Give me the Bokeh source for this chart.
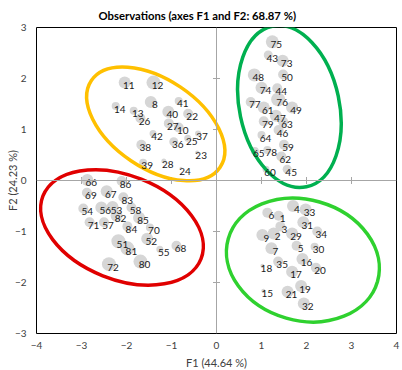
import math
from bokeh.plotting import figure
from bokeh.models import Range1d, FixedTicker, Span, ColumnDataSource, Title
from bokeh.embed import file_html
from bokeh.resources import INLINE
from bokeh.core.properties import value

# ---- data (observations 1..86) ----
obs = [str(i) for i in range(1, 87)]
f1 = [1.38, 1.27, 1.42, 1.70, 1.78, 1.13, 1.22, -1.46, 1.02, -0.84,
      -2.04, -1.40, -1.84, -2.24, 1.04, 1.91, 1.68, 1.02, 1.88, 2.21,
      1.58, -0.63, -0.43, -0.79, -0.64, -1.69, -1.06, -1.17, 1.68, 2.18,
      1.93, 1.94, 1.98, 2.24, 1.37, -0.95, -0.41, -1.67, -1.63, -1.07,
      -0.84, -1.41, 1.15, 1.35, 1.57, 1.38, 1.32, 0.84, 1.68, 1.48,
      -2.18, -1.54, -2.31, -2.96, -1.26, -2.56, -2.50, -1.89, 1.50, 1.10,
      1.05, 1.44, 1.48, 1.00, 0.85, -2.87, -2.44, -0.89, -2.88, -1.48,
      -2.82, -2.39, 1.47, 1.00, 1.24, 1.37, 0.76, 1.13, 1.05, -1.69,
      -1.98, -2.22, -2.07, -1.98, -1.72, -2.11]
f2 = [-0.69, -1.04, -0.90, -0.50, -1.28, -0.63, -1.33, 1.54, -1.07, 1.04,
      1.92, 1.92, 1.37, 1.46, -2.16, -1.54, -1.79, -1.67, -2.07, -1.71,
      -2.18, 1.31, 0.55, 0.24, 0.83, 1.22, 1.12, 0.38, -1.04, -1.30,
      -0.82, -2.41, -0.57, -1.00, -1.59, 0.76, 0.92, 0.70, 0.35, 1.35,
      1.56, 0.92, 2.46, 1.81, 0.22, 0.99, 1.27, 2.07, 1.43, 2.08,
      -1.19, -1.14, -0.52, -0.55, -1.35, -0.53, -0.82, -0.53, 0.70, 0.22,
      1.43, 0.47, 1.15, 0.89, 0.58, 0.01, -0.21, -1.28, -0.24, -0.92,
      -0.82, -1.64, 2.35, 1.82, 2.72, 1.59, 1.54, 0.60, 1.16, -1.59,
      -1.33, -0.69, -0.33, -0.90, -0.73, -0.01]
weight = [5, 6, 5, 6, 5, 5, 6, 6, 6, 5,
          6, 7, 4, 4, 2, 6, 6, 2, 6, 5,
          6, 5, 2, 1.5, 3.5, 5, 5, 2.5, 6, 4,
          6, 6, 6, 5, 5, 4.5, 3, 5, 4, 6,
          4, 3.5, 4.5, 5, 4.5, 5, 6, 6.5, 6, 5,
          7, 6, 6, 5, 3.5, 6, 5, 5, 5, 3.5,
          6, 5, 5, 4, 4, 6, 6, 5, 5, 4,
          5, 7, 6, 6, 6.5, 7, 5, 4, 5, 7,
          7, 6, 5, 5, 6, 5]

x_ticks = [-4, -3, -2, -1, 0, 1, 2, 3, 4]
y_ticks = [-3, -2, -1, 0, 1, 2, 3]

title = "Observations (axes F1 and F2: 68.87 %)"
x_title = "F1 (44.64 %)"
y_title = "F2 (24.23 %)"

# confidence ellipses (centre, axes lengths, rotation in degrees)
ell_x = [-1.35, 1.62, -2.10, 1.92]
ell_y = [1.11, 1.45, -0.92, -1.56]
ell_w = [3.45, 2.22, 3.78, 3.45]
ell_h = [1.74, 3.22, 2.04, 2.37]
ell_angle = [-34, 12, -21.7, -16]
ell_color = ["#FFC000", "#00B050", "#E00000", "#2FD12F"]

FONT = "Lato"

p = figure(width=402, height=370, output_backend="svg", toolbar_location=None,
           x_range=Range1d(-4, 4), y_range=Range1d(-3, 3),
           min_border_left=36, min_border_right=6, min_border_top=27,
           min_border_bottom=37)

# main title
p.title.text = title
p.title.align = "left"
p.title.offset = 62
p.title.vertical_align = "top"
p.title.standoff = 8
p.title.text_font = FONT
p.title.text_font_size = "11.3px"
p.title.text_font_style = "bold"
p.title.text_color = "#000000"

p.grid.visible = False
p.outline_line_color = "#000000"
p.outline_line_width = 1
p.background_fill_color = "white"
p.border_fill_color = "white"

for ax, ticks in ((p.xaxis, x_ticks), (p.yaxis, y_ticks)):
    ax.ticker = FixedTicker(ticks=ticks)
    ax.major_tick_in = 0
    ax.major_tick_out = 0
    ax.minor_tick_line_color = None
    ax.axis_line_color = None
    ax.major_label_text_font = FONT
    ax.major_label_text_font_size = "10px"
    ax.major_label_text_color = "#404040"
    ax.axis_label_text_font = FONT
    ax.axis_label_text_font_size = "11px"
    ax.axis_label_text_font_style = "normal"
    ax.axis_label_text_color = "#404040"

p.xaxis.major_label_standoff = 8
p.add_layout(Title(text=x_title, align="center", vertical_align="bottom",
                   standoff=4, text_font=FONT, text_font_size="11px",
                   text_font_style="normal", text_color="#404040"), "below")

p.yaxis.axis_label = y_title
p.yaxis.major_label_standoff = 10
p.yaxis.axis_label_standoff = -7

# zero lines with small ticks
p.add_layout(Span(location=0, dimension="height", line_color="#A6A6A6", line_width=1))
p.add_layout(Span(location=0, dimension="width", line_color="#A6A6A6", line_width=1))
xt = [t for t in x_ticks if t not in (0, x_ticks[0], x_ticks[-1])]
yt = [t for t in y_ticks if t not in (0, y_ticks[0], y_ticks[-1])]
p.scatter(x=xt, y=[0] * len(xt), marker="dash", angle=math.pi / 2, size=7,
          line_color="#A6A6A6", line_width=1)
p.scatter(x=[0] * len(yt), y=yt, marker="dash", size=7,
          line_color="#A6A6A6", line_width=1)

src = ColumnDataSource(dict(f1=f1, f2=f2, label=obs, size=[2 * w for w in weight]))
p.scatter(x="f1", y="f2", size="size", source=src, fill_color="#D6D6D6",
          line_color=None)

p.ellipse(x=ell_x, y=ell_y, width=ell_w, height=ell_h,
          angle=[math.radians(a) for a in ell_angle],
          fill_color=None, line_color=ell_color, line_width=3.5)

p.text(x="f1", y="f2", text="label", source=src, x_offset=4, y_offset=3,
       text_align="center", text_baseline="middle",
       text_font=value(FONT), text_font_size="10px", text_color="#1A1A1A")

open("out.html", "w").write(file_html(p, INLINE))
